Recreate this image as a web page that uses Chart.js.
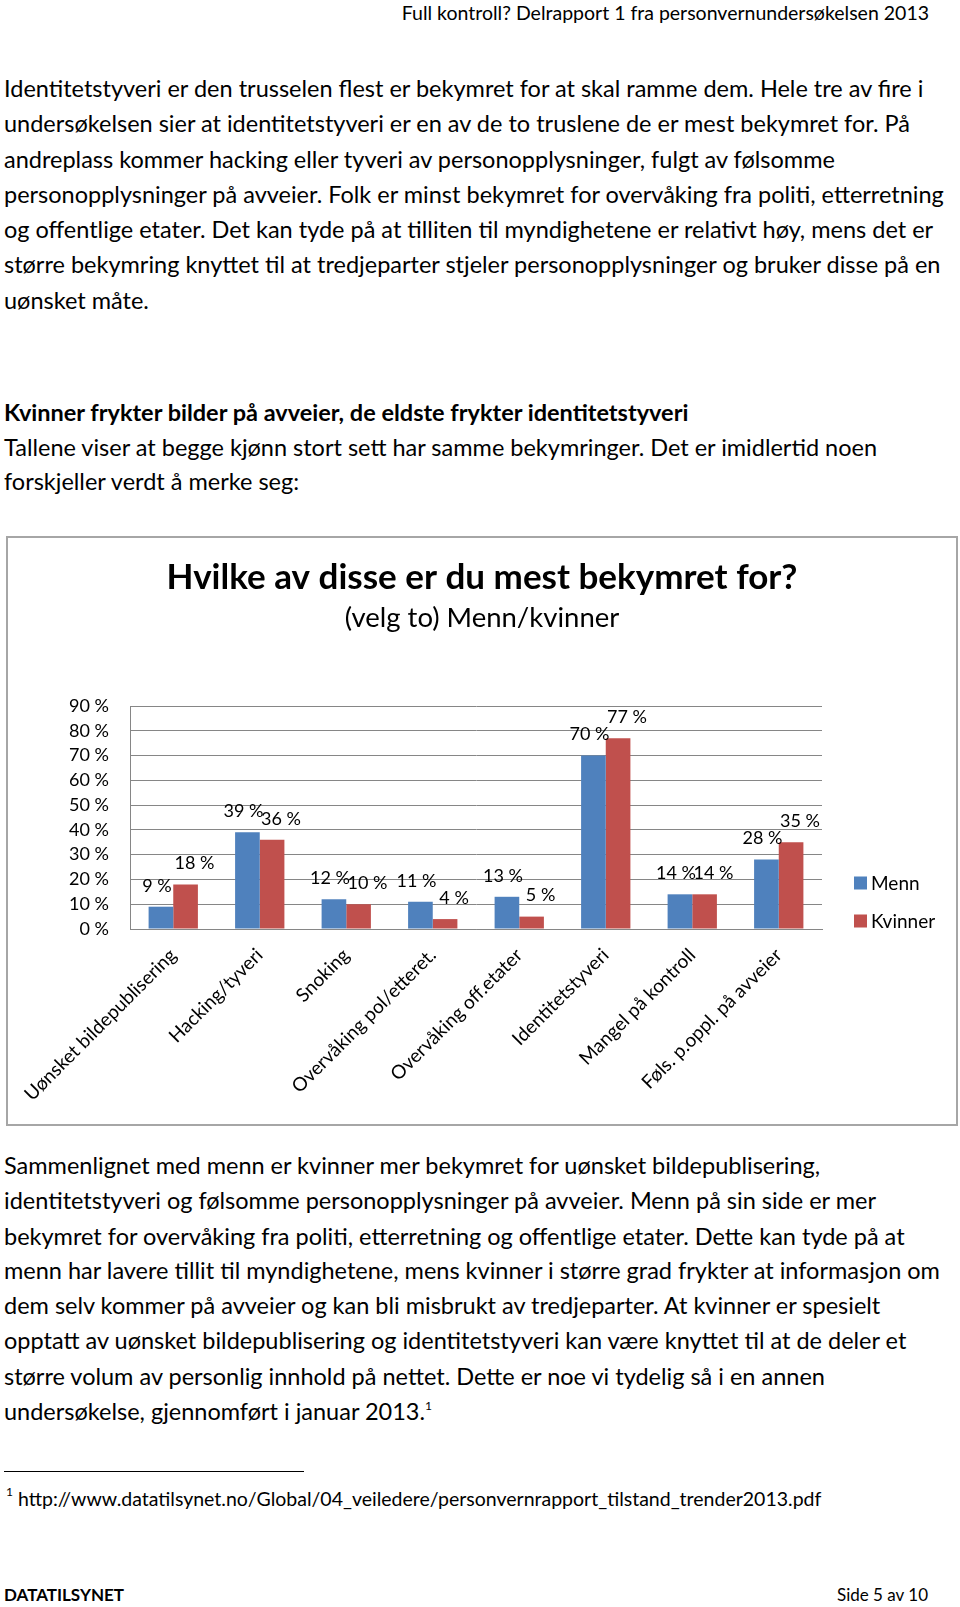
<!DOCTYPE html>
<html>
<head>
<meta charset="utf-8">
<script src="https://cdn.jsdelivr.net/npm/chart.js@4.4.1/dist/chart.umd.min.js"></script>
<style>
  html, body { margin: 0; padding: 0; background: #fff; }
  body { width: 960px; height: 1607px; position: relative; overflow: hidden; font-family: Lato, "Open Sans", sans-serif; color: #000; }
  .line { position: absolute; left: 4px; white-space: pre; font-size: 23.5px; line-height: 36px; height: 36px; }
  .bold { font-weight: bold; }
  #header { position: absolute; right: 31px; top: 0; font-size: 19.5px; line-height: 26px; white-space: pre; }
  #box { position: absolute; left: 6px; top: 536px; width: 948px; height: 586px; border: 2px solid #a6a6a6; }
  #chart { display: block; }
  #rule { position: absolute; left: 4px; top: 1471px; width: 300px; height: 0; border-top: 1px solid #000; }
  #foot { position: absolute; left: 6px; top: 1485px; font-size: 19.5px; line-height: 28px; white-space: pre; }
  #foot sup, .line sup { font-size: 12px; vertical-align: 10px; line-height: 0; }
  #org { position: absolute; left: 4px; top: 1582px; font-size: 17px; font-weight: bold; line-height: 26px; }
  #page { position: absolute; right: 32px; top: 1582px; font-size: 17px; line-height: 26px; }
</style>
</head>
<body>
<div id="header">Full kontroll? Delrapport 1 fra personvernundersøkelsen 2013</div>
<div id="text"></div>
<div id="box"><canvas id="chart" width="948" height="586"></canvas></div>
<div id="rule"></div>
<div id="foot"><sup>1</sup> http://www.datatilsynet.no/Global/04_veiledere/personvernrapport_tilstand_trender2013.pdf</div>
<div id="org">DATATILSYNET</div>
<div id="page">Side 5 av 10</div>
<script>
const categories = [
  'Uønsket bildepublisering',
  'Hacking/tyveri',
  'Snoking',
  'Overvåking pol/etteret.',
  'Overvåking off.etater',
  'Identitetstyveri',
  'Mangel på kontroll',
  'Føls. p.oppl. på avveier'
];
const menn = [9, 39, 12, 11, 13, 70, 14, 28];
const kvinner = [18, 36, 10, 4, 5, 77, 14, 35];
const seriesNames = ['Menn', 'Kvinner'];
const yMax = 90;
const yStep = 10;

// page text, one entry per printed line: [top, text, bold]
const lines = [
  [70, 'Identitetstyveri er den trusselen flest er bekymret for at skal ramme dem. Hele tre av fire i'],
  [105, 'undersøkelsen sier at identitetstyveri er en av de to truslene de er mest bekymret for. På'],
  [141, 'andreplass kommer hacking eller tyveri av personopplysninger, fulgt av følsomme'],
  [176, 'personopplysninger på avveier. Folk er minst bekymret for overvåking fra politi, etterretning'],
  [211, 'og offentlige etater. Det kan tyde på at tilliten til myndighetene er relativt høy, mens det er'],
  [246, 'større bekymring knyttet til at tredjeparter stjeler personopplysninger og bruker disse på en'],
  [282, 'uønsket måte.'],
  [394, 'Kvinner frykter bilder på avveier, de eldste frykter identitetstyveri', true],
  [429, 'Tallene viser at begge kjønn stort sett har samme bekymringer. Det er imidlertid noen'],
  [463, 'forskjeller verdt å merke seg:'],
  [1147, 'Sammenlignet med menn er kvinner mer bekymret for uønsket bildepublisering,'],
  [1182, 'identitetstyveri og følsomme personopplysninger på avveier. Menn på sin side er mer'],
  [1218, 'bekymret for overvåking fra politi, etterretning og offentlige etater. Dette kan tyde på at'],
  [1252, 'menn har lavere tillit til myndighetene, mens kvinner i større grad frykter at informasjon om'],
  [1287, 'dem selv kommer på avveier og kan bli misbrukt av tredjeparter. At kvinner er spesielt'],
  [1322, 'opptatt av uønsket bildepublisering og identitetstyveri kan være knyttet til at de deler et'],
  [1358, 'større volum av personlig innhold på nettet. Dette er noe vi tydelig så i en annen'],
  [1393, 'undersøkelse, gjennomført i januar 2013.<sup>1</sup>']
];
const textBox = document.getElementById('text');
lines.forEach(([top, txt, bold]) => {
  const d = document.createElement('div');
  d.className = 'line' + (bold ? ' bold' : '');
  d.style.top = top + 'px';
  d.innerHTML = txt;
  textBox.appendChild(d);
});

const FONT = 'Lato';

// value labels above the bars
const barLabels = {
  id: 'barLabels',
  afterDatasetsDraw(chart) {
    const ctx = chart.ctx;
    ctx.save();
    ctx.font = '18px ' + FONT;
    ctx.fillStyle = '#000';
    ctx.textAlign = 'center';
    ctx.textBaseline = 'middle';
    chart.data.datasets.forEach((ds, i) => {
      const meta = chart.getDatasetMeta(i);
      const dx = i === 0 ? -4 : 9;
      meta.data.forEach((bar, j) => {
        ctx.fillText(ds.data[j] + ' %', bar.x + dx, bar.y - 21);
      });
    });
    ctx.restore();
  }
};

// legend to the right of the plot
const sideLegend = {
  id: 'sideLegend',
  afterDraw(chart) {
    const ctx = chart.ctx;
    const area = chart.chartArea;
    ctx.save();
    ctx.font = '19px ' + FONT;
    ctx.textBaseline = 'middle';
    chart.data.datasets.forEach((ds, i) => {
      const y = area.bottom - 46 + i * 38;
      const x = area.right + 32;
      ctx.fillStyle = ds.backgroundColor;
      ctx.fillRect(x, y - 6.5, 13, 13);
      ctx.fillStyle = '#000';
      ctx.fillText(ds.label, x + 17, y + 1);
    });
    ctx.restore();
  }
};

new Chart(document.getElementById('chart'), {
  type: 'bar',
  data: {
    labels: categories,
    datasets: [
      { label: seriesNames[0], data: menn, backgroundColor: '#4f81bd' },
      { label: seriesNames[1], data: kvinner, backgroundColor: '#c0504d' }
    ]
  },
  options: {
    responsive: false,
    animation: false,
    layout: { padding: 0 },
    categoryPercentage: 0.57,
    barPercentage: 1.0,
    plugins: {
      legend: { display: false },
      tooltip: { enabled: false },
      title: {
        display: true,
        text: 'Hvilke av disse er du mest bekymret for?',
        color: '#000',
        font: { family: FONT, size: 35, weight: 'bold', lineHeight: 1.2 },
        padding: { top: 19, bottom: 0 }
      },
      subtitle: {
        display: true,
        text: '(velg to) Menn/kvinner',
        color: '#000',
        font: { family: FONT, size: 27.5, lineHeight: 1.2 },
        padding: { top: 2.5, bottom: 71.5 }
      }
    },
    scales: {
      x: {
        grid: { display: false, drawTicks: false },
        border: { color: '#868686', width: 1 },
        ticks: {
          color: '#000',
          font: { family: FONT, size: 19 },
          minRotation: 45,
          maxRotation: 45,
          padding: 15,
          autoSkip: false
        },
        afterFit(scale) {
          scale.height = 195;
          scale.paddingLeft = 0;
          scale.paddingRight = 0;
        }
      },
      y: {
        min: 0,
        max: yMax,
        grid: { color: '#868686', lineWidth: 1, drawTicks: false },
        border: { color: '#868686', width: 1 },
        ticks: {
          stepSize: yStep,
          autoSkip: false,
          color: '#000',
          font: { family: FONT, size: 18 },
          padding: 21,
          callback: v => v + ' %'
        },
        afterFit(scale) { scale.width = 122; }
      },
      // empty right-hand axis: keeps room for the legend while titles stay centred on the box
      legendSpace: {
        type: 'linear',
        position: 'right',
        display: true,
        grid: { display: false, drawTicks: false },
        border: { display: false },
        ticks: { display: false },
        afterFit(scale) { scale.width = 134; }
      }
    }
  },
  plugins: [barLabels, sideLegend]
});
</script>
</body>
</html>
